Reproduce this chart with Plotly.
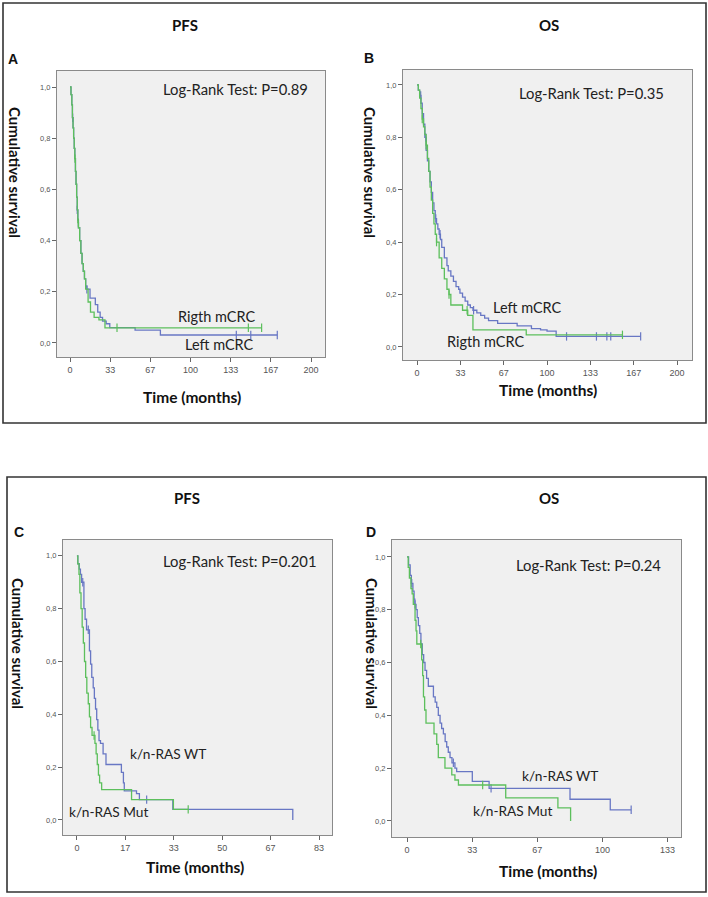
import plotly.graph_objects as go

W, H = 708, 897

# ---------------- DATA ----------------
# Panel A: PFS, Left vs Right mCRC
a_left_t = [0.8, 1.5, 2, 2.5, 3, 3.5, 4, 4.5, 5, 5.5, 6, 6.5, 7, 8, 9, 10, 11, 12, 13, 14, 16.6, 21, 23, 25, 27, 30, 33, 54, 75]
a_left_s = [0.97, 0.93, 0.88, 0.84, 0.80, 0.76, 0.72, 0.67, 0.62, 0.57, 0.52, 0.48, 0.45, 0.40, 0.35, 0.31, 0.28, 0.25, 0.22, 0.21, 0.175, 0.15, 0.12, 0.10, 0.085, 0.075, 0.06, 0.05, 0.031]
a_left_end = 172
a_left_cens = [2.2, 6.0, 14.0, 138, 150, 172]
a_right_t = [0.8, 1.5, 2, 2.5, 3, 3.5, 4, 4.5, 5, 5.5, 6, 6.5, 7, 8, 9, 10, 11, 12, 13, 15, 17, 20, 24, 29]
a_right_s = [0.97, 0.93, 0.88, 0.84, 0.80, 0.76, 0.72, 0.67, 0.62, 0.57, 0.52, 0.47, 0.45, 0.40, 0.35, 0.31, 0.28, 0.25, 0.21, 0.16, 0.12, 0.10, 0.09, 0.059]
a_right_end = 159
a_right_cens = [4.1, 6.9, 39, 148, 159]

# Panel B: OS, Left vs Right mCRC
b_left_t = [1, 2, 3, 4, 5, 6, 7, 8, 9, 10, 11, 12, 13, 14, 15, 16, 17, 18, 19, 21, 23, 24, 26, 28, 30, 32, 33, 35, 37, 39, 41, 43, 46, 49, 52, 55, 62, 77, 88, 95, 100, 107]
b_left_s = [0.98, 0.96, 0.93, 0.89, 0.85, 0.80, 0.75, 0.71, 0.67, 0.63, 0.59, 0.55, 0.52, 0.49, 0.47, 0.45, 0.43, 0.41, 0.38, 0.34, 0.31, 0.29, 0.27, 0.25, 0.23, 0.22, 0.205, 0.19, 0.175, 0.16, 0.15, 0.14, 0.13, 0.12, 0.11, 0.10, 0.09, 0.08, 0.07, 0.065, 0.06, 0.04]
b_left_end = 172
b_left_cens = [2.8, 6.7, 14.4, 17.7, 43.5, 115, 138, 146, 149, 172]
b_right_t = [1, 2, 3, 4, 5, 6, 7, 8, 9, 10, 11, 12, 13, 14, 15, 17, 19, 21, 23, 24.6, 26, 35, 39, 43, 84]
b_right_s = [0.98, 0.95, 0.91, 0.87, 0.84, 0.81, 0.77, 0.72, 0.67, 0.61, 0.56, 0.51, 0.47, 0.43, 0.40, 0.34, 0.30, 0.26, 0.22, 0.20, 0.16, 0.14, 0.12, 0.065, 0.046]
b_right_end = 158
b_right_cens = [4, 7, 15, 24.6, 38.5, 158]

# Panel C: PFS, k/n-RAS WT vs Mut
c_wt_t = [0.3, 0.8, 1.2, 1.6, 2.4, 2.8, 3.3, 4.3, 4.7, 5.1, 5.6, 6.0, 6.4, 6.8, 7.2, 7.6, 8.1, 9.0, 10.0, 15.3, 16.0, 16.3, 20.5, 21.5, 33.0, 74.3]
c_wt_s = [0.97, 0.95, 0.93, 0.90, 0.80, 0.76, 0.72, 0.64, 0.59, 0.54, 0.50, 0.46, 0.42, 0.38, 0.34, 0.30, 0.29, 0.25, 0.21, 0.18, 0.14, 0.11, 0.10, 0.077, 0.04, 0.0]
c_wt_end = 74.3
c_wt_cens = [2.0, 3.9, 24.0]
c_mut_t = [0.3, 0.7, 1.0, 1.4, 1.8, 2.2, 2.6, 3.0, 3.4, 3.9, 4.3, 4.7, 5.2, 6.2, 6.6, 7.0, 7.4, 7.8, 8.5, 18.8, 33.2]
c_mut_s = [0.97, 0.93, 0.86, 0.80, 0.73, 0.67, 0.60, 0.54, 0.48, 0.44, 0.39, 0.35, 0.32, 0.29, 0.25, 0.21, 0.17, 0.14, 0.115, 0.077, 0.04]
c_mut_end = 38.3
c_mut_cens = [5.9, 38.3]

# Panel D: OS, k/n-RAS WT vs Mut
d_wt_t = [0.8, 1.6, 2.2, 3.0, 3.6, 4.0, 4.6, 5.2, 5.8, 6.5, 7.1, 7.8, 8.5, 9.2, 10.0, 10.9, 13.5, 14.4, 15.2, 16.0, 16.9, 17.7, 18.6, 19.5, 20.3, 21.1, 22.0, 23.0, 24.5, 25.4, 33.4, 42.0, 83.4, 104.0]
d_wt_s = [0.97, 0.93, 0.90, 0.87, 0.84, 0.82, 0.80, 0.77, 0.74, 0.71, 0.67, 0.63, 0.60, 0.57, 0.54, 0.51, 0.47, 0.45, 0.43, 0.40, 0.37, 0.35, 0.33, 0.30, 0.28, 0.26, 0.24, 0.22, 0.20, 0.187, 0.15, 0.123, 0.082, 0.042]
d_wt_end = 114.7
d_wt_cens = [2.4, 4.1, 23.7, 43, 114.7]
d_mut_t = [0.6, 1.2, 2.0, 2.6, 3.2, 4.1, 4.6, 5.0, 7.5, 8.0, 8.4, 9.0, 9.7, 13.8, 15.2, 16.0, 19.4, 22.9, 24.5, 26.3, 50.5, 77.2, 83.7]
d_mut_s = [0.96, 0.92, 0.88, 0.86, 0.82, 0.76, 0.72, 0.67, 0.61, 0.55, 0.47, 0.42, 0.37, 0.33, 0.29, 0.24, 0.20, 0.174, 0.155, 0.136, 0.087, 0.049, 0.0]
d_mut_end = 83.7
d_mut_cens = [7.0, 38.7]

y_tickvals = [0.0, 0.2, 0.4, 0.6, 0.8, 1.0]
y_ticktext = ["0,0", "0,2", "0,4", "0,6", "0,8", "1,0"]
ab_ticktext = ["0", "33", "67", "100", "133", "167", "200"]
c_ticktext = ["0", "17", "33", "50", "67", "83"]
d_ticktext = ["0", "33", "67", "100", "133"]

panel_titles = ["PFS", "OS", "PFS", "OS"]
panel_letters = ["A", "B", "C", "D"]
pvals = ["Log-Rank Test: P=0.89", "Log-Rank Test: P=0.35", "Log-Rank Test: P=0.201", "Log-Rank Test: P=0.24"]

BLUE = "#6877c4"
GREEN = "#5cbf5c"


def step_xy(t, s, end):
    x = [0.0] + list(t)
    y = [1.0] + list(s)
    if end > x[-1]:
        x.append(end)
        y.append(y[-1])
    return x, y


def surv_at(t, s, q):
    v = 1.0
    for ti, si in zip(t, s):
        if ti <= q:
            v = si
    return v


def px(x):
    return x / W


def py(y):
    return 1 - y / H


fig = go.Figure()

panels = [
    dict(box=(57, 71, 325, 357), xr=[-10.8, 211.6], yr=[-0.055, 1.0625],
         tv=[i * 200 / 6 for i in range(7)], tt=ab_ticktext,
         curves=[(a_left_t, a_left_s, a_left_end, a_left_cens, BLUE),
                 (a_right_t, a_right_s, a_right_end, a_right_cens, GREEN)]),
    dict(box=(403, 70, 692, 360), xr=[-10.8, 211.5], yr=[-0.05, 1.057],
         tv=[i * 200 / 6 for i in range(7)], tt=ab_ticktext,
         curves=[(b_left_t, b_left_s, b_left_end, b_left_cens, BLUE),
                 (b_right_t, b_right_s, b_right_end, b_right_cens, GREEN)]),
    dict(box=(63, 540, 332, 835), xr=[-4.8, 87.8], yr=[-0.057, 1.06],
         tv=[i * 250 / 15 for i in range(6)], tt=c_ticktext,
         curves=[(c_wt_t, c_wt_s, c_wt_end, c_wt_cens, BLUE),
                 (c_mut_t, c_mut_s, c_mut_end, c_mut_cens, GREEN)]),
    dict(box=(392, 540, 681, 837), xr=[-7.7, 140.2], yr=[-0.061, 1.064],
         tv=[i * 100 / 3 for i in range(5)], tt=d_ticktext,
         curves=[(d_wt_t, d_wt_s, d_wt_end, d_wt_cens, BLUE),
                 (d_mut_t, d_mut_s, d_mut_end, d_mut_cens, GREEN)]),
]

layout_axes = {}
for i, p in enumerate(panels):
    n = "" if i == 0 else str(i + 1)
    x0, y0, x1, y1 = p["box"]
    for (t, s, end, cens, col) in p["curves"]:
        xs, ys = step_xy(t, s, end)
        fig.add_trace(go.Scatter(x=xs, y=ys, mode="lines", line=dict(color=col, width=1.3, shape="hv"),
                                 xaxis="x" + n, yaxis="y" + n, showlegend=False, hoverinfo="skip"))
        cy = [surv_at(t, s, c) for c in cens]
        fig.add_trace(go.Scatter(x=cens, y=cy, mode="markers",
                                 marker=dict(symbol="line-ns-open", size=6, color=col,
                                             line=dict(color=col, width=1.2)),
                                 xaxis="x" + n, yaxis="y" + n, showlegend=False, hoverinfo="skip"))
    layout_axes["xaxis" + n] = dict(domain=[px(x0), px(x1)], range=p["xr"], anchor="y" + n,
                                    tickmode="array", tickvals=p["tv"], ticktext=p["tt"],
                                    showline=True, mirror=True, linecolor="#8a8a8a", linewidth=1,
                                    ticks="outside", ticklen=4, tickcolor="#666", showgrid=False, zeroline=False,
                                    tickfont=dict(family="Liberation Sans", size=9, color="#555"))
    layout_axes["yaxis" + n] = dict(domain=[py(y1), py(y0)], range=p["yr"], anchor="x" + n,
                                    tickmode="array", tickvals=y_tickvals, ticktext=y_ticktext,
                                    showline=True, mirror=True, linecolor="#8a8a8a", linewidth=1,
                                    ticks="outside", ticklen=4, tickcolor="#666", showgrid=False, zeroline=False,
                                    tickfont=dict(family="Liberation Sans", size=7.5, color="#555"))

fig.update_layout(width=W, height=H, margin=dict(l=0, r=0, t=0, b=0),
                  paper_bgcolor="white", plot_bgcolor="#f0f0f0", **layout_axes)

# outer frames
for (x0, y0, x1, y1) in [(3, 3, 706, 423), (7, 477, 706, 892)]:
    fig.add_shape(type="rect", xref="paper", yref="paper", x0=px(x0), y0=py(y1), x1=px(x1), y1=py(y0),
                  line=dict(color="#333", width=1.6), fillcolor="rgba(0,0,0,0)", layer="below")


def ann(text, x, y, font, angle=0, xanchor="center"):
    fig.add_annotation(text=text, x=px(x), y=py(y), xref="paper", yref="paper", showarrow=False,
                       font=font, textangle=angle, xanchor=xanchor, yanchor="middle")


title_pos = [(185, 25), (549, 25), (187, 498), (549, 498)]
letter_pos = [(13, 59), (369, 58), (19, 532), (371, 532)]
ytitle_pos = [(15, 172), (370, 172), (18, 643), (372, 643)]
xtitle_pos = [(192, 397), (548, 390), (195, 867), (548, 871)]
pval_pos = [(310, 89), (666, 93), (318, 561), (663, 565)]

for i in range(4):
    ann("<b>%s</b>" % panel_titles[i], *title_pos[i], font=dict(family="Lato", size=15, color="#111"))
    ann("<b>%s</b>" % panel_letters[i], *letter_pos[i], font=dict(family="Liberation Sans", size=14, color="#111"))
    ann("<b>Cumulative survival</b>", *ytitle_pos[i], font=dict(family="Lato", size=15, color="#111"), angle=90)
    ann("<b>Time (months)</b>", *xtitle_pos[i], font=dict(family="Lato", size=15.5, color="#111"))
    ann(pvals[i], *pval_pos[i], font=dict(family="Lato", size=14.8, color="#222"), xanchor="right")

LBL = dict(family="Lato", size=14.5, color="#222")
ann("Rigth mCRC", 216, 316, LBL)
ann("Left mCRC", 219, 345, LBL)
ann("Left mCRC", 527, 307, LBL)
ann("Rigth mCRC", 486, 342, LBL)
LBL2 = dict(family="Lato", size=13.7, color="#222")
ann("k/n-RAS WT", 168, 753, LBL2)
ann("k/n-RAS Mut", 108, 811, LBL2)
ann("k/n-RAS WT", 560, 775, LBL2)
ann("k/n-RAS Mut", 512, 810, LBL2)

fig.write_html("out.html", config={"displayModeBar": False},
               post_script="document.body.style.margin='0';document.body.style.padding='0';")
